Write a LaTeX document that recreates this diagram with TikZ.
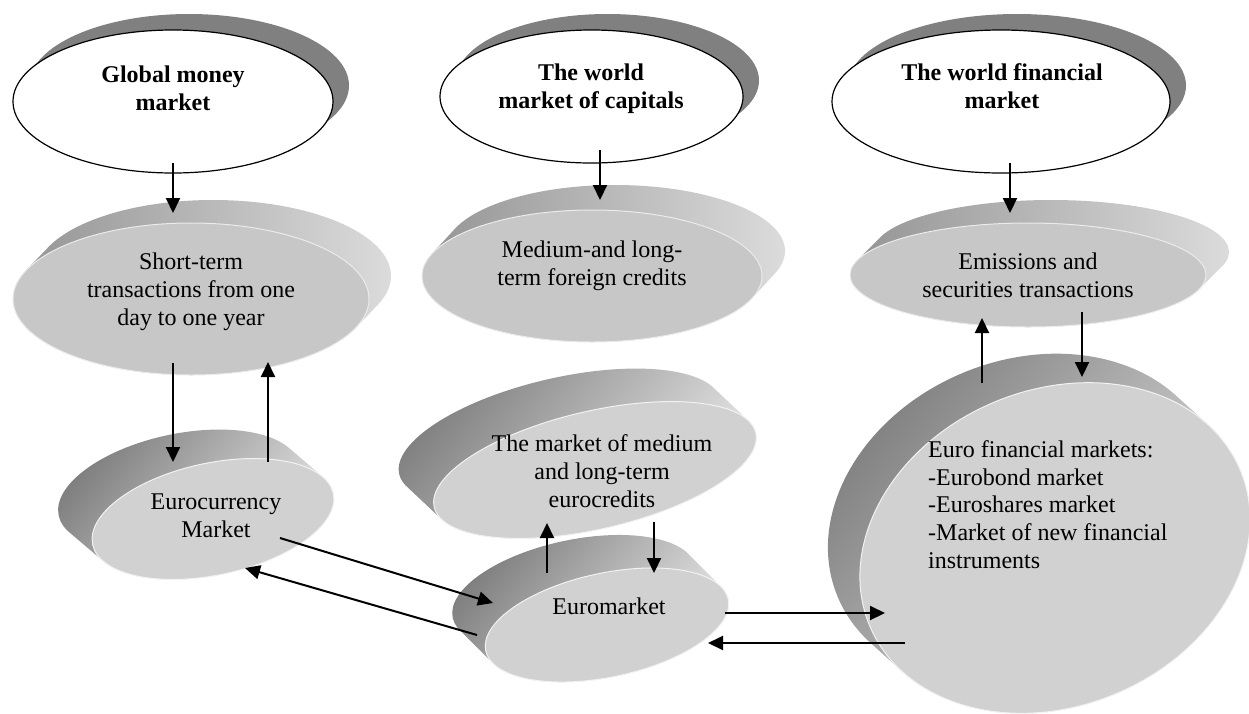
\documentclass[tikz,border=0pt]{standalone}
\usepackage{fontspec}
\setmainfont{Liberation Serif}
\usetikzlibrary{arrows.meta}

\tikzset{
  lbl/.style={font=\fontsize{24}{27.6}\selectfont, align=center, inner sep=0pt, anchor=base},
  ttl/.style={lbl, font=\fontsize{24}{28}\selectfont\bfseries},
  arr/.style={line width=2pt, -{Triangle[length=15pt,width=14pt]}},
  topshadow/.style={fill=black!50},
  topface/.style={fill=white, draw=black, line width=1.2pt},
  rimup/.style={left color=black!42, middle color=black!35, right color=black!14},
  rimleft/.style={top color=black!50, middle color=black!34, bottom color=black!6, shading angle=50},
  faceup/.style={fill=black!22, draw=black!8, line width=1pt},
  faceleft/.style={fill=black!18, draw=black!5, line width=1pt},
}

% raised disk: rim = swept ellipse from the face to its shifted back copy
% #1 rim style, #2 face style, #3 cx, #4 cy, #5 rx, #6 ry, #7 rotation, #8 dx, #9 dy
\newcommand\slab[9]{%
  \shade[#1] \foreach \k in {0,...,30}{
    ({#3+(#8)*\k/30},{#4+(#9)*\k/30}) ellipse [x radius=#5, y radius=#6, rotate=#7] };
  \fill[#2] (#3,#4) ellipse [x radius=#5, y radius=#6, rotate=#7];
}

\begin{document}
\begin{tikzpicture}[x=1pt, y=-1pt]
\useasboundingbox (0,0) rectangle (1249,713);

% top level: world markets
\fill[topshadow] (189,85.5) ellipse [x radius=160, y radius=71.5];
\draw[topface] (173,101.5) ellipse [x radius=160, y radius=71.5];
\fill[topshadow] (607.5,80.5) ellipse [x radius=151.5, y radius=66.5];
\draw[topface] (591.5,96.5) ellipse [x radius=151.5, y radius=66.5];
\fill[topshadow] (1017,85.5) ellipse [x radius=169, y radius=71.5];
\draw[topface] (1001,101.5) ellipse [x radius=169, y radius=71.5];

% second level: segments
\slab{rimup}{faceup}{191}{299}{178}{76}{0}{22}{-23}
\slab{rimup}{faceup}{592}{276}{170}{66}{0}{23}{-25}
\slab{rimup}{faceup}{1028}{275}{178}{52}{0}{23}{-23}

% euro markets
\slab{rimleft}{faceleft}{213}{519}{123}{56}{12}{-34}{-29}
\slab{rimleft}{faceleft}{595}{470}{165}{59}{13}{-35}{-33}
\slab{rimleft}{faceleft}{607}{625}{124}{52}{12}{-33}{-33}
\slab{rimleft}{faceleft}{1055}{548}{201}{158}{23}{-32}{-29}

% labels
\node[ttl] (gm) at (173,110) {Global money\\market};
\node[ttl] (wc) at (591,108) {The world\\market of capitals};
\node[ttl] (wf) at (1002,108) {The world financial\\market};
\node[lbl] (st) at (191,325) {Short-term\\transactions from one\\day to one year};
\node[lbl] (mlf) at (592,285) {Medium-and long-\\term foreign credits};
\node[lbl] (est) at (1028,297) {Emissions and\\securities transactions};
\node[lbl] (ecm) at (216,537) {Eurocurrency\\Market};
\node[lbl] (mle) at (602,507) {The market of medium\\and long-term\\eurocredits};
\node[lbl] (em) at (609,614) {Euromarket};
\node[lbl, align=left, anchor=base west] (efm) at (928,568)
  {Euro financial markets:\\-Eurobond market\\-Euroshares market\\-Market of new financial\\instruments};

% connector end points
\coordinate (gm-o) at (173,163);  \coordinate (st-i) at (173,213);
\coordinate (wc-o) at (600,150);  \coordinate (mlf-i) at (600,200);
\coordinate (wf-o) at (1010,163); \coordinate (est-i) at (1010,213);
\coordinate (st-o) at (173,363);  \coordinate (ecm-i) at (173,462);
\coordinate (ecm-o) at (268,462); \coordinate (st-r) at (268,362);
\coordinate (ecm-s) at (280,538); \coordinate (em-l) at (493,603);
\coordinate (em-s) at (477,635);  \coordinate (ecm-r) at (245,568);
\coordinate (em-u) at (547,573);  \coordinate (mle-r) at (547,523);
\coordinate (mle-o) at (654,522); \coordinate (em-i) at (654,573);
\coordinate (em-o) at (725,613);  \coordinate (efm-i) at (885,613);
\coordinate (efm-o) at (905,643); \coordinate (em-r) at (708,643);
\coordinate (efm-u) at (982,383); \coordinate (est-r) at (982,318);
\coordinate (est-o) at (1082,312); \coordinate (efm-t) at (1082,377);

% connectors
\draw[arr] (gm-o) -- (st-i);
\draw[arr] (wc-o) -- (mlf-i);
\draw[arr] (wf-o) -- (est-i);
\draw[arr] (st-o) -- (ecm-i);
\draw[arr] (ecm-o) -- (st-r);
\draw[arr] (ecm-s) -- (em-l);
\draw[arr] (em-s) -- (ecm-r);
\draw[arr] (em-u) -- (mle-r);
\draw[arr] (mle-o) -- (em-i);
\draw[arr] (em-o) -- (efm-i);
\draw[arr] (efm-o) -- (em-r);
\draw[arr] (efm-u) -- (est-r);
\draw[arr] (est-o) -- (efm-t);
\end{tikzpicture}
\end{document}
